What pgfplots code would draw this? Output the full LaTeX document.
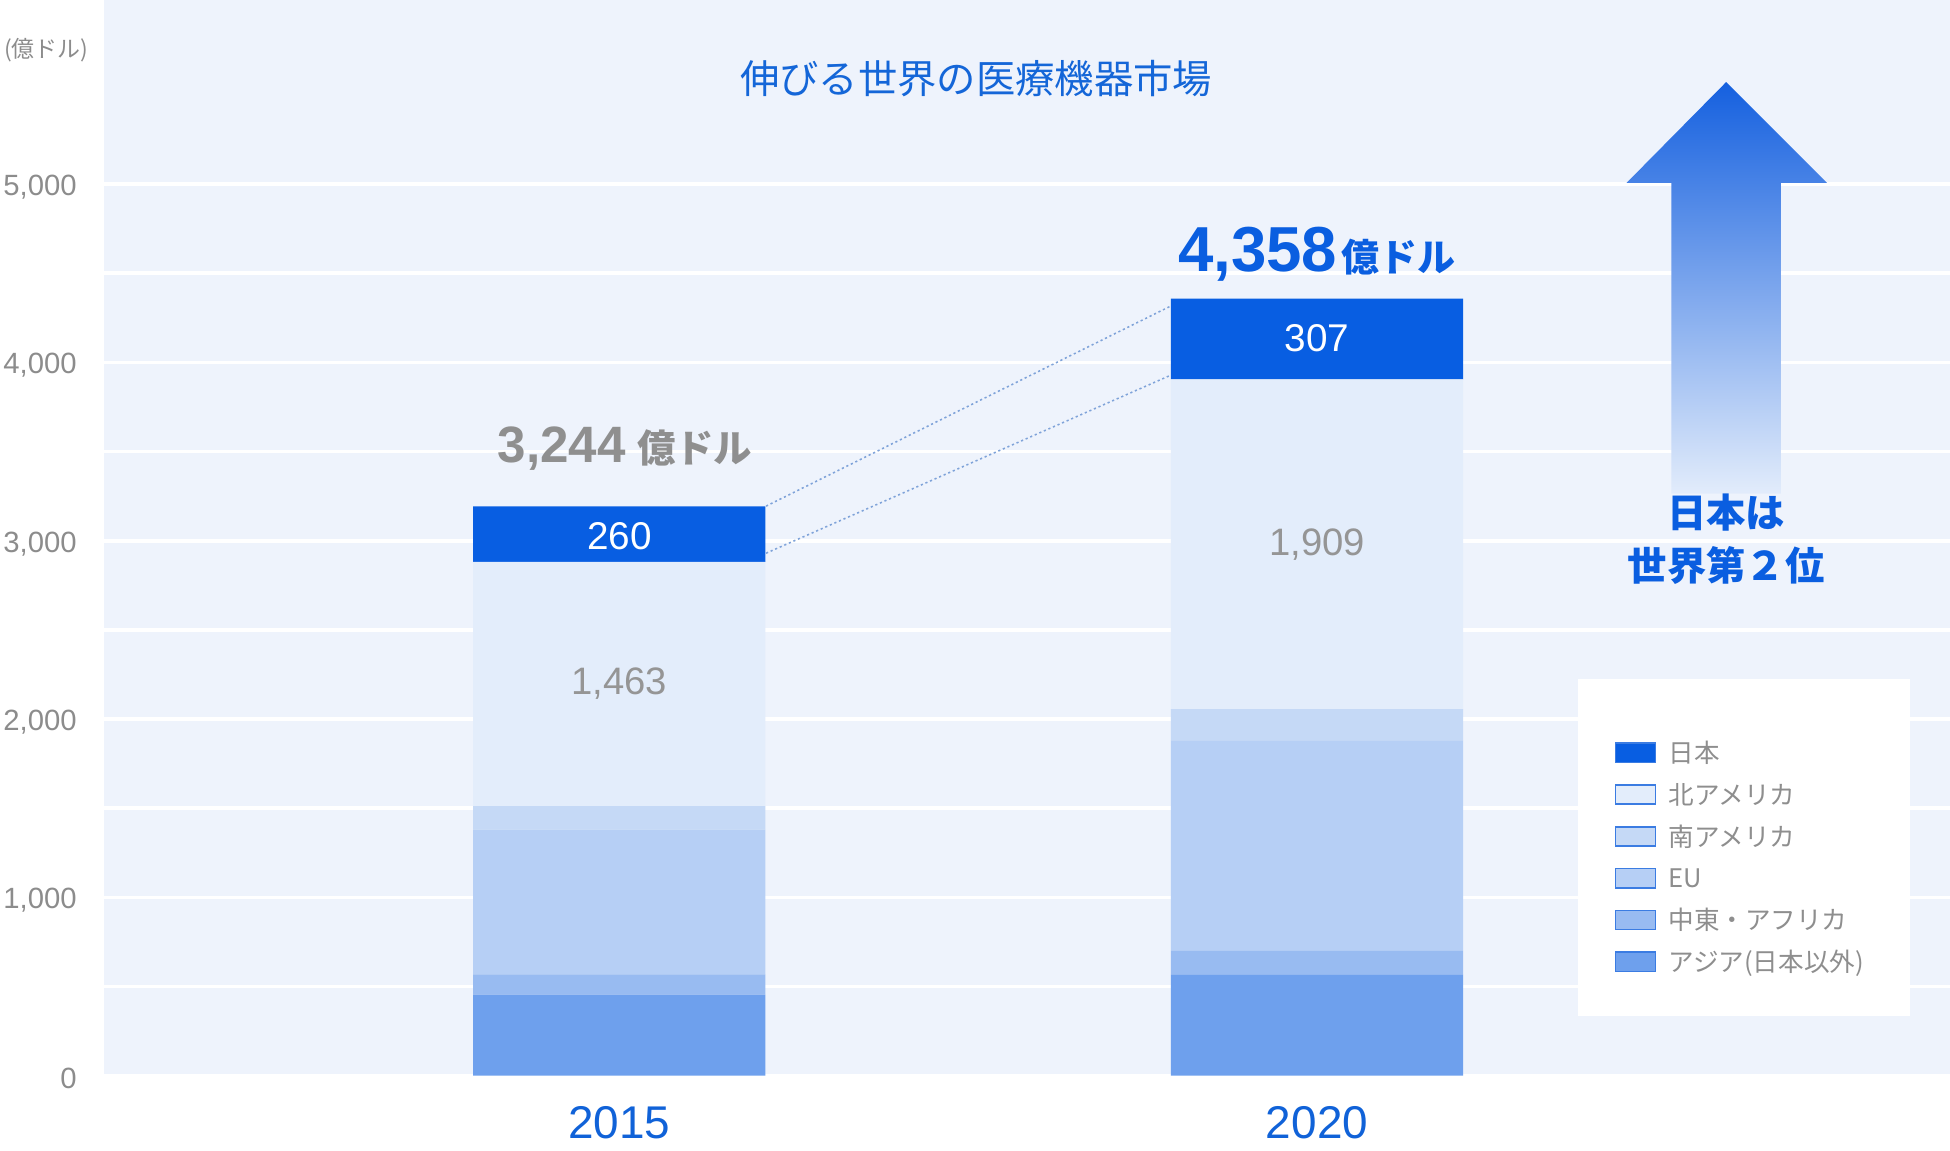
\documentclass[border=0pt]{standalone}
\usepackage{fontspec}
\setmainfont{Liberation Sans}
\newfontfamily\jp{Noto Sans CJK JP}
\usepackage{pgfplots}
\pgfplotsset{compat=1.18}
\definecolor{bgpanel}{HTML}{EEF3FC}
\definecolor{cJP}{HTML}{085EE2}
\definecolor{cNA}{HTML}{E3EDFB}
\definecolor{cSA}{HTML}{C5D9F6}
\definecolor{cEU}{HTML}{B6CFF5}
\definecolor{cMEA}{HTML}{98BBF1}
\definecolor{cAS}{HTML}{6EA0ED}
\definecolor{titleblue}{HTML}{1466D8}
\definecolor{totblue}{HTML}{0A5EE0}
\definecolor{xblue}{HTML}{1062D8}
\definecolor{tickgray}{HTML}{8C8C8C}
\definecolor{totgray}{HTML}{8F8F8F}
\definecolor{valgray}{HTML}{959595}
\definecolor{leggray}{HTML}{8E8E8E}
\definecolor{legedge}{HTML}{3B7CE2}
\definecolor{arrowtop}{HTML}{1560DF}
\definecolor{arrowbot}{HTML}{E2ECFB}
\definecolor{dotc}{HTML}{7FA3D9}
\begin{document}
\begin{tikzpicture}
\begin{axis}[
  at={(16.8mm,12mm)}, anchor=south west,
  scale only axis, width=296.8mm, height=173mm,
  xmin=84, xmax=1568, ymin=0, ymax=6032,
  ybar stacked, bar width=235,
  axis background/.style={fill=bgpanel},
  axis line style={draw=none},
  major tick length=0pt, minor tick length=0pt,
  ytick={0,1000,2000,3000,4000,5000},
  minor ytick={500,1500,2500,3500,4500},
  ymajorgrids, yminorgrids,
  major grid style={white, line width=0.6mm},
  minor grid style={white, line width=0.6mm},
  xtick={498,1059}, xticklabels={2015,2020},
  xticklabel style={anchor=north, inner sep=0pt, yshift=-4.9mm, text=xblue, font=\fontsize{21}{21}\selectfont},
  yticklabel style={anchor=east, inner sep=0pt, xshift=-4.4mm, yshift=-0.5mm, text=tickgray, font=\fontsize{13.4}{13.4}\selectfont},
  /pgf/number format/1000 sep={,},
  /pgf/number format/assume math mode=true,
  legend image code/.code={\draw[#1, draw=legedge, line width=0.25mm] (0mm,-1.55mm) rectangle (6.4mm,1.55mm);},
  reverse legend,
  legend style={at={(axis description cs:0.8181,0.320)}, anchor=north west, draw=none, fill=none,
    inner sep=0pt, row sep=0pt, column sep=2mm,
    font=\jp\fontsize{11.7}{11.7}\selectfont, text=leggray,
    cells={anchor=west},
    nodes={inner sep=0pt, text height=4.92mm, text depth=1.8mm}},
]
\addplot[fill=cAS, draw=none] coordinates {(498,455) (1059,565)};
\addplot[fill=cMEA, draw=none] coordinates {(498,113) (1059,135)};
\addplot[fill=cEU, draw=none] coordinates {(498,812) (1059,1178)};
\addplot[fill=cSA, draw=none] coordinates {(498,132) (1059,177)};
\addplot[fill=cNA, draw=none] coordinates {(498,1370) (1059,1850)};
\addplot[fill=cJP, draw=none] coordinates {(498,310) (1059,453)};
\legend{アジア(日本以外),中東・アフリカ,EU,南アメリカ,北アメリカ,日本}
\fill[white] (axis cs:1269,2224.5) rectangle (axis cs:1536,334.7);
\draw[dotc, line width=0.25mm, dash pattern=on 0.35mm off 0.45mm] (axis cs:616,3194) -- (axis cs:942,4318);
\draw[dotc, line width=0.25mm, dash pattern=on 0.35mm off 0.45mm] (axis cs:616,2930) -- (axis cs:942,3930);
\end{axis}
\begin{scope}[x=0.2mm,y=-0.2mm,shift={(0,185mm)}]
  \node[anchor=west, inner sep=0pt, text=tickgray, font=\jp\fontsize{10.5}{10.5}\selectfont] at (3,40) {(億ドル)};
  \node[inner sep=0pt, text=titleblue, font=\jp\fontsize{18}{18}\selectfont] at (785,63) {伸びる世界の医療機器市場};
  \node[anchor=base west, inner sep=0pt, text=totgray] at (400,372)
    {{\bfseries\fontsize{23.4}{23.4}\selectfont 3,244}\hspace{1.8mm}{\jp\bfseries\fontsize{17.6}{17.6}\selectfont 億ドル}};
  \node[anchor=base west, inner sep=0pt, text=totblue] at (947,218)
    {{\bfseries\fontsize{29.1}{29.1}\selectfont 4,358}\hspace{0.6mm}{\jp\bfseries\fontsize{17.4}{17.4}\selectfont 億ドル}};
  \node[inner sep=0pt, text=white, font=\fontsize{17.7}{17.7}\selectfont] at (498,431) {260};
  \node[inner sep=0pt, text=valgray, font=\fontsize{17.5}{17.5}\selectfont] at (498,550) {1,463};
  \node[inner sep=0pt, text=white, font=\fontsize{17.7}{17.7}\selectfont] at (1059,272) {307};
  \node[inner sep=0pt, text=valgray, font=\fontsize{17.5}{17.5}\selectfont] at (1059,438) {1,909};
  \shade[top color=arrowtop, bottom color=arrowbot] (1388,66) -- (1469,147) -- (1432,147) -- (1432,397) -- (1344,397) -- (1344,147) -- (1308,147) -- cycle;
  \node[inner sep=0pt, text=totblue, font=\jp\bfseries\fontsize{18}{18}\selectfont] at (1388,412) {日本は};
  \node[inner sep=0pt, text=totblue, font=\jp\bfseries\fontsize{18}{18}\selectfont] at (1388,455) {世界第２位};
\end{scope}
\pgfresetboundingbox
\path[use as bounding box] (0,0) rectangle (313.6mm,185mm);
\end{tikzpicture}
\end{document}
